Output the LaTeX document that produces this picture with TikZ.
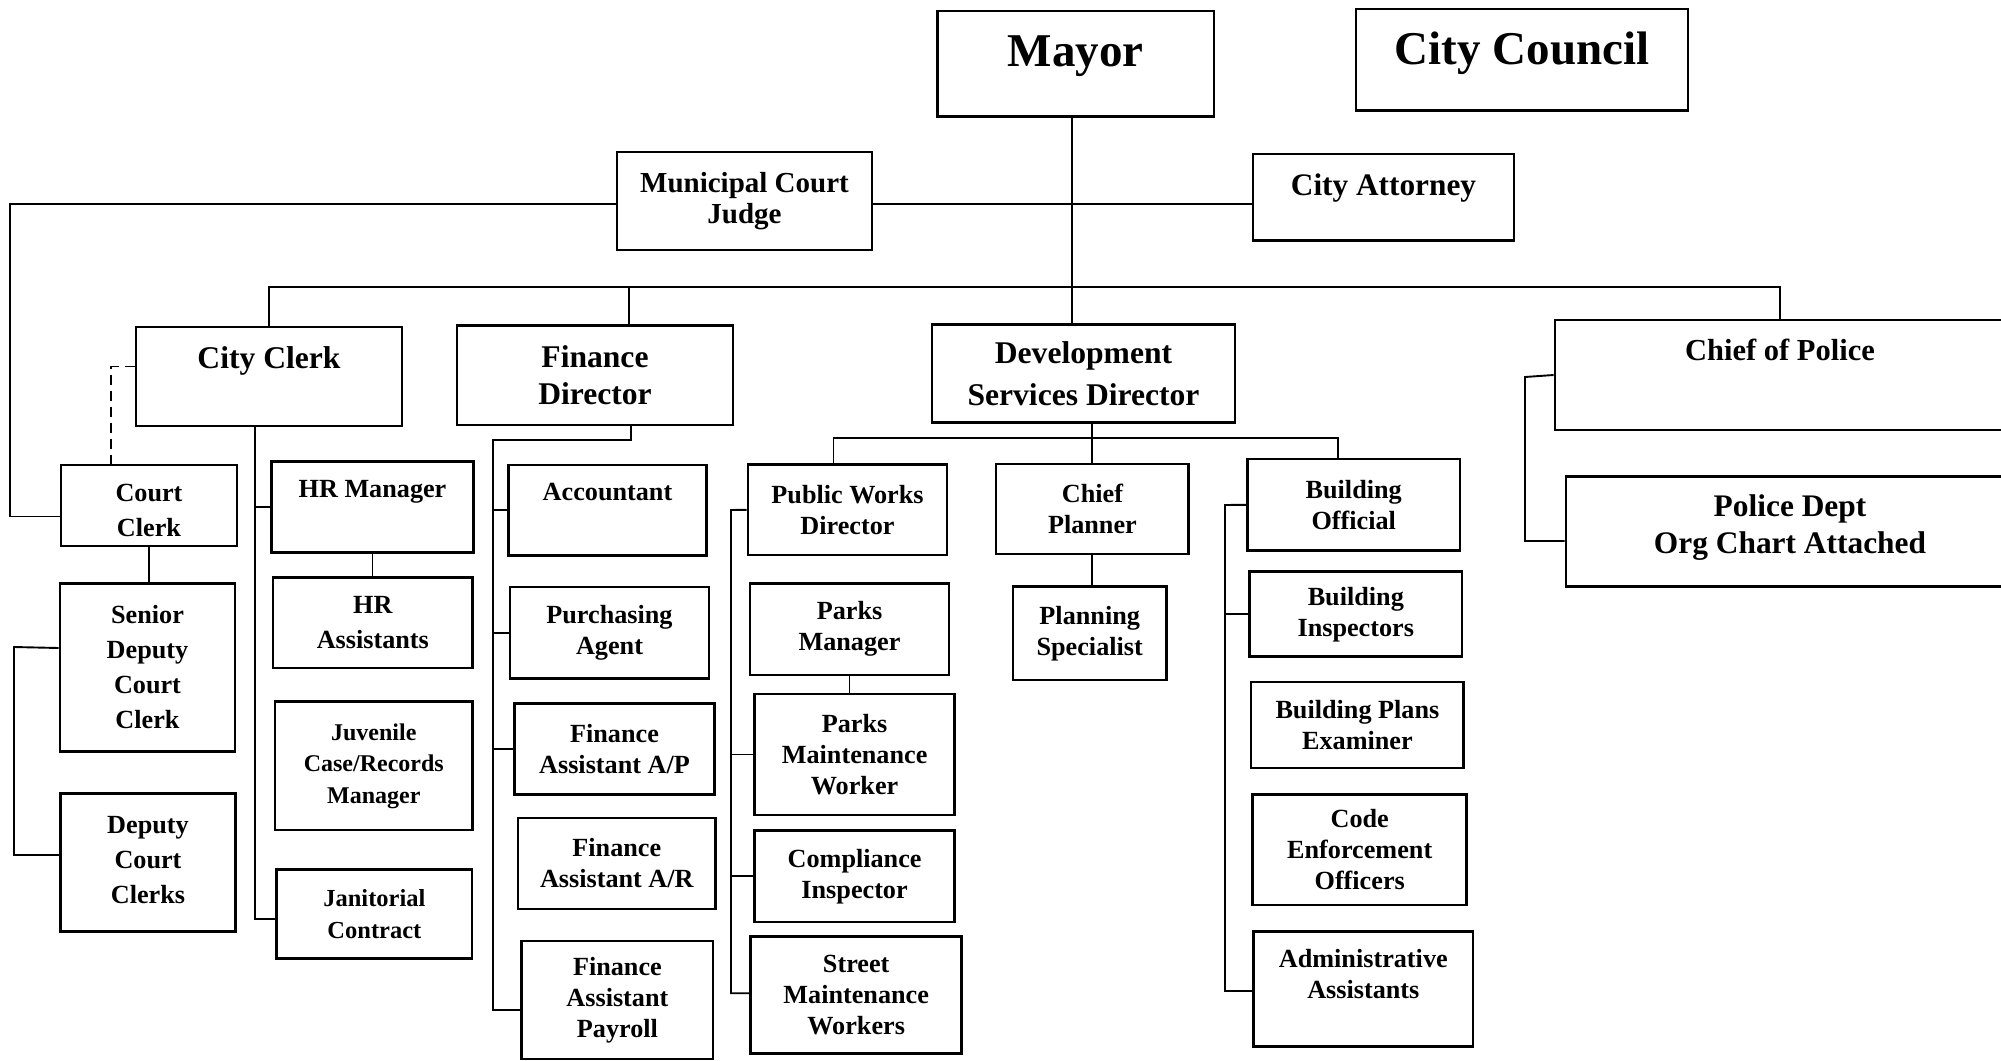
\documentclass[tikz,border=0pt]{standalone}
\usepackage{fontspec}
\setmainfont{Liberation Serif}
\usetikzlibrary{calc}

\newcommand{\headfont}{\fontsize{47}{56}\selectfont\bfseries}
\newcommand{\deptfont}{\fontsize{31.6}{37}\selectfont\bfseries}
\newcommand{\stafffont}{\fontsize{26.2}{31}\selectfont\bfseries}

\begin{document}
\begin{tikzpicture}[x=1pt, y=-1pt]
    % Define styles
    \tikzstyle{head} = [rectangle, draw, line width=2.8pt, align=center, inner sep=0pt, font=\headfont]
    \tikzstyle{dept} = [head, font=\deptfont]
    \tikzstyle{staff} = [head, font=\stafffont]
    \tikzstyle{line} = [draw, line width=1.9pt]

    \useasboundingbox (0,0) rectangle (2001,1060);

    % Place nodes - top
    \node [head, minimum width=276.5pt, minimum height=105.7pt, text depth=26pt] (mayor) at (1075.8,63.8) {Mayor};
    \node [head, minimum width=332pt, minimum height=101.5pt, text depth=22.4pt] (council) at (1522,59.8) {City Council};
    \node [dept, font=\fontsize{29}{31.6}\selectfont\bfseries, minimum width=255pt, minimum height=98pt] (judge) at (744.5,201) {Municipal Court\\Judge};
    \node [dept, font=\fontsize{31.3}{37}\selectfont\bfseries, minimum width=261pt, minimum height=86.6pt, text depth=24.6pt] (attorney) at (1383.5,197.3) {City Attorney};

    % Place nodes - departments
    \node [dept, minimum width=266pt, minimum height=99pt, text depth=38pt] (clerk) at (269,376.5) {City Clerk};
    \node [dept, minimum width=276pt, minimum height=99.5pt] (finance) at (595,375.3) {Finance\\Director};
    \node [dept, font=\fontsize{31.6}{42}\selectfont\bfseries, minimum width=303pt, minimum height=98pt] (dev) at (1083.5,373.5) {Development\\Services Director};
    \node [dept, font=\fontsize{30.5}{37}\selectfont\bfseries, minimum width=450pt, minimum height=110pt, text depth=50.8pt] (police) at (1780,375) {Chief of Police};
    \node [dept, font=\fontsize{31.4}{36.7}\selectfont\bfseries, below of=police, node distance=156.5pt, xshift=10pt, minimum width=448pt, minimum height=109.5pt, text depth=15.4pt] (policedept) {Police Dept\\Org Chart Attached};

    % Place nodes - court clerks
    \node [staff, font=\fontsize{26.2}{35}\selectfont\bfseries, minimum width=176pt, minimum height=81pt, text height=62pt] (courtclerk) at (149,505.5) {Court\\Clerk};
    \node [staff, font=\fontsize{26.2}{35}\selectfont\bfseries, below of=courtclerk, node distance=162pt, xshift=-1.5pt, minimum width=175pt, minimum height=168.4pt] (senior) {Senior\\Deputy\\Court\\Clerk};
    \node [staff, font=\fontsize{26.2}{35}\selectfont\bfseries, below of=senior, node distance=195pt, xshift=0.5pt, minimum width=174.7pt, minimum height=138.4pt, text depth=6pt] (deputy) {Deputy\\Court\\Clerks};

    % Place nodes - city clerk staff
    \node [staff, minimum width=201.5pt, minimum height=90.6pt, text depth=35.4pt] (hrmgr) at (372.5,507) {HR Manager};
    \node [staff, font=\fontsize{26.2}{35}\selectfont\bfseries, below of=hrmgr, node distance=115.8pt, xshift=0.3pt, minimum width=199.6pt, minimum height=90.3pt] (hrasst) {HR\\Assistants};
    \node [staff, font=\fontsize{24}{31.5}\selectfont\bfseries, below of=hrasst, node distance=143.1pt, xshift=1pt, minimum width=197.6pt, minimum height=128.3pt] (juvenile) {Juvenile\\Case/Records\\Manager};
    \node [staff, font=\fontsize{24.5}{32.5}\selectfont\bfseries, below of=juvenile, node distance=148.1pt, xshift=0.6pt, minimum width=195.2pt, minimum height=89.1pt] (janitorial) {Janitorial\\Contract};

    % Place nodes - finance staff
    \node [staff, minimum width=198.3pt, minimum height=90.2pt, text depth=36.8pt] (accountant) at (607.5,510) {Accountant};
    \node [staff, below of=accountant, node distance=122.7pt, xshift=2pt, minimum width=199pt, minimum height=91.4pt] (purchasing) {Purchasing\\Agent};
    \node [staff, below of=purchasing, node distance=116.3pt, xshift=5pt, minimum width=199.6pt, minimum height=90.7pt] (ap) {Finance\\Assistant A/P};
    \node [staff, below of=ap, node distance=114.5pt, xshift=2.3pt, minimum width=197.7pt, minimum height=91pt] (ar) {Finance\\Assistant A/R};
    \node [staff, below of=ar, node distance=136.5pt, xshift=0.6pt, minimum width=191.3pt, minimum height=118pt] (payroll) {Finance\\Assistant\\Payroll};

    % Place nodes - development services staff
    \node [staff, minimum width=199pt, minimum height=90.4pt] (pwdir) at (847.5,509.8) {Public Works\\Director};
    \node [staff, below of=pwdir, node distance=119.4pt, xshift=2pt, minimum width=199pt, minimum height=91.6pt] (parksmgr) {Parks\\Manager};
    \node [staff, below of=parksmgr, node distance=125.3pt, xshift=5.1pt, minimum width=200.2pt, minimum height=121pt] (parksmw) {Parks\\Maintenance\\Worker};
    \node [staff, below of=parksmw, node distance=121.7pt, minimum width=200.2pt, minimum height=91.5pt] (compliance) {Compliance\\Inspector};
    \node [staff, below of=compliance, node distance=119pt, xshift=1.6pt, minimum width=211.1pt, minimum height=117.1pt] (street) {Street\\Maintenance\\Workers};

    \node [staff, minimum width=192.8pt, minimum height=90pt] (planner) at (1092.4,509) {Chief\\Planner};
    \node [staff, below of=planner, node distance=124.2pt, xshift=-2.7pt, minimum width=153.3pt, minimum height=93.5pt] (specialist) {Planning\\Specialist};

    \node [staff, minimum width=212.6pt, minimum height=91.6pt] (bldgoff) at (1353.7,504.8) {Building\\Official};
    \node [staff, below of=bldgoff, node distance=109.4pt, xshift=2.1pt, minimum width=212.5pt, minimum height=84.9pt] (inspectors) {Building\\Inspectors};
    \node [staff, below of=inspectors, node distance=110.8pt, xshift=1.6pt, minimum width=212.8pt, minimum height=86pt] (plansexam) {Building Plans\\Examiner};
    \node [staff, below of=plansexam, node distance=124.8pt, xshift=2.3pt, minimum width=214.2pt, minimum height=110.2pt] (codeenf) {Code\\Enforcement\\Officers};
    \node [staff, below of=codeenf, node distance=139.2pt, xshift=3.6pt, minimum width=219.4pt, minimum height=115.1pt, text depth=29.3pt] (adminasst) {Administrative\\Assistants};

    % Bus points
    \coordinate (judgeline) at (10,204);
    \coordinate (mainbus) at (1072,287);
    \coordinate (courtbracket) at (14,647);
    \coordinate (clerkspine) at (255,426);
    \coordinate (finspine) at (493,440);
    \coordinate (devbus) at (1092,438);
    \coordinate (pwspine) at (731,510);
    \coordinate (bldgspine) at (1225,505);
    \coordinate (policespine) at (1525,377);

    % Draw edges - top
    \path [line] (mayor.south -| mainbus) -- (dev.north -| mainbus);
    \path [line] (judge.west |- judgeline) -- (judgeline) |- ($(courtclerk.west)+(0,11)$);
    \path [line] (judge.east |- judgeline) -- (attorney.west |- judgeline);
    \path [line] (clerk.north) |- (mainbus) -| (police.north);
    \path [line] ($(finance.north)+(34,0)$) |- (mainbus);

    % Draw edges - court clerks
    \path [line, dash pattern=on 10pt off 6pt] ($(clerk.west)+(0,-10)$) -| ($(courtclerk.north)+(-38,0)$);
    \path [line] (courtclerk.south) -- (courtclerk.south |- senior.north);
    \path [line] ($(senior.west)+(0,-19.5)$) -- (courtbracket) |- ($(deputy.west)+(0,-7.5)$);

    % Draw edges - city clerk
    \path [line] (clerk.south -| clerkspine) |- ($(janitorial.west)+(0,5)$);
    \path [line] (hrmgr.west) -- (hrmgr.west -| clerkspine);
    \path [line] ($(juvenile.west)+(0,9)$) -- ($(juvenile.west)+(0,9)$ -| clerkspine);
    \path [line] (hrmgr.south) -- (hrmgr.south |- hrasst.north);

    % Draw edges - finance
    \path [line] ($(finance.south)+(36,0)$) |- (finspine) |- ($(payroll.west)+(0,10)$);
    \path [line] (accountant.west) -- (accountant.west -| finspine);
    \path [line] (purchasing.west) -- (purchasing.west -| finspine);
    \path [line] (ap.west) -- (ap.west -| finspine);
    \path [line] ($(ar.west)+(0,-6)$) -- ($(ar.west)+(0,-6)$ -| finspine);

    % Draw edges - development services
    \path [line] (dev.south -| devbus) -- (planner.north -| devbus);
    \path [line] ($(pwdir.north)+(-14,0)$) |- (devbus) -| ($(bldgoff.north)+(-16,0)$);
    \path [line] (planner.south) -- (planner.south |- specialist.north);

    \path [line] (pwdir.west) -- (pwspine) |- ($(street.west)+(0,-2)$);
    \path [line] ($(parksmgr.west)+(0,4.5)$) -- ($(parksmgr.west)+(0,4.5)$ -| pwspine);
    \path [line] (parksmw.west) -- (parksmw.west -| pwspine);
    \path [line] (compliance.west) -- (compliance.west -| pwspine);
    \path [line] (parksmgr.south) -- (parksmgr.south |- parksmw.north);

    \path [line] (bldgoff.west) -- (bldgspine) |- ($(adminasst.west)+(0,2)$);
    \path [line] (inspectors.west) -- (inspectors.west -| bldgspine);
    \path [line] ($(plansexam.west)+(0,-5)$) -- ($(plansexam.west)+(0,-5)$ -| bldgspine);
    \path [line] ($(codeenf.west)+(0,-11)$) -- ($(codeenf.west)+(0,-11)$ -| bldgspine);

    % Draw edges - police
    \path [line] (police.west) -- (policespine) |- ($(policedept.west)+(0,9.5)$);

\end{tikzpicture}
\end{document}
